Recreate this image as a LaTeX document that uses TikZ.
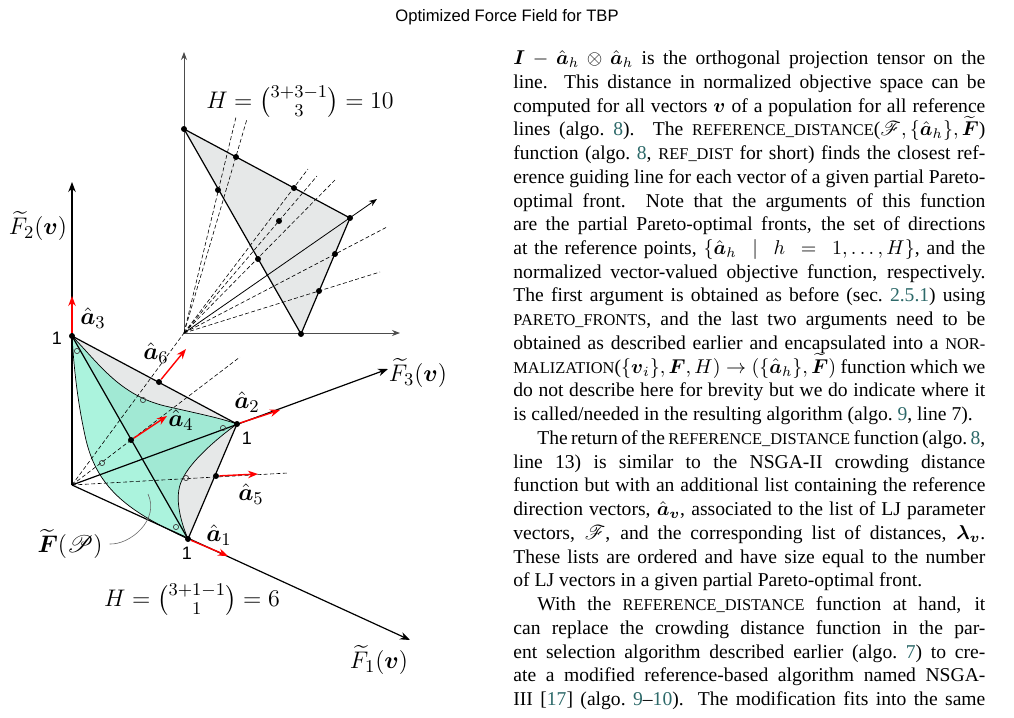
\documentclass[tikz,border=0pt]{standalone}
\usepackage{amsmath,amssymb,mathrsfs}
\usepackage{fontspec}
\setmainfont{Liberation Serif}
\newfontfamily\hdrfont{Liberation Sans}
\usetikzlibrary{arrows.meta}
\definecolor{refc}{RGB}{45,105,105}
\definecolor{tri}{RGB}{230,232,232}
\definecolor{grn}{RGB}{120,235,200}
\newcommand{\sck}[1]{{\fontsize{8.2}{11.87}\selectfont #1}}
\newcommand{\rf}[1]{\textcolor{refc}{#1}}
\newcommand{\bah}{\hat{\boldsymbol a}_h}
\begin{document}
\begin{tikzpicture}[x=0.5pt,y=-0.5pt,
  ax/.style={line width=0.6pt,-{Stealth[length=5pt]}},
  iax/.style={line width=0.4pt,draw=black!70,-{Stealth[length=4pt]}},
  edge/.style={line width=0.6pt},
  dsh/.style={dashed,line width=0.3pt,dash pattern=on 2pt off 1.2pt},
  red arrow/.style={red,line width=0.7pt,-{Stealth[length=5pt]}},
  dot/.style={circle,fill=black,inner sep=0pt,minimum size=3pt},
  odot/.style={circle,draw=black!75,line width=0.35pt,inner sep=0pt,minimum size=2.6pt},
  lab/.style={font=\fontsize{12.5}{14}\selectfont},
  one/.style={font=\hdrfont\fontsize{9}{10}\selectfont},
]
\useasboundingbox (0,0) rectangle (1014,718);
\node[font=\hdrfont\fontsize{8.3}{10}\selectfont] (hdr) at (507,17) {Optimized Force Field for TBP};

% ---------- inset ----------
\coordinate (Q) at (184,333);
\coordinate (Qy) at (184,52);
\coordinate (Qx) at (400,333);
\coordinate (A) at (184,129);
\coordinate (B) at (350,218);
\coordinate (C) at (301,334);
\fill[tri] (A)--(B)--(C)--cycle;
\draw[iax] (Q)--(Qy);
\draw[iax] (Q)--(Qx);
\coordinate (d1) at (236,117); \coordinate (d2) at (247,119);
\coordinate (d3) at (308,169); \coordinate (d4) at (317,176);
\coordinate (d5) at (335,180); \coordinate (d6) at (387,227);
\coordinate (d7) at (380,272); \coordinate (dB) at (377,199);
\foreach \d in {d1,d2,d3,d4,d5,d6,d7} \draw[dsh] (Q)--(\d);
\draw[line width=0.4pt,-{Stealth[length=4pt]}] (Q)--(dB);
\draw[edge] (A)--(B)--(C)--cycle;
\foreach \p/\n in {{(184,129)}/i1,{(350,218)}/i2,{(301,334)}/i3,{(236,157)}/i4,{(294,188)}/i5,{(218,190)}/i6,{(258,259)}/i7,{(335,254)}/i8,{(319,291)}/i9,{(279,221)}/i10}
  \node[dot] (\n) at \p {};
\node[lab] (Hi) at (300,102) {$H=\binom{3+3-1}{3}=10$};

% ---------- main ----------
\coordinate (O) at (72,485);
\coordinate (P3) at (72,336);
\coordinate (P2) at (237,424);
\coordinate (P1) at (188,539);
\coordinate (E2) at (72,182);
\coordinate (E3) at (388,369);
\coordinate (E1) at (410,640);
\fill[tri] (P3)--(P2)--(P1)--cycle;
\fill[grn,opacity=0.62] (P3) .. controls (100,365) and (120,395) .. (165,406)
   .. controls (200,414) and (220,418) .. (P2)
   .. controls (215,440) and (190,462) .. (182,480)
   .. controls (174,496) and (180,520) .. (P1)
   .. controls (130,512) and (98,490) .. (86,440)
   .. controls (78,405) and (74,370) .. (P3) -- cycle;
\draw[line width=0.35pt] (P3) .. controls (100,365) and (120,395) .. (165,406)
   .. controls (200,414) and (220,418) .. (P2)
   .. controls (215,440) and (190,462) .. (182,480)
   .. controls (174,496) and (180,520) .. (P1);
\draw[line width=0.35pt] (P1) .. controls (130,512) and (98,490) .. (86,440)
   .. controls (78,405) and (74,370) .. (P3);
% axes
\draw[ax] (O)--(E2);
\draw[ax] (O)--(E3);
\draw[ax] (O)--(E1);
% dashed reference lines
\coordinate (r1) at (240,357);
\coordinate (r2) at (288,473);
\draw[dsh] (O)--(r1);
\draw[dsh] (O)--(Q);
\draw[dsh] (O)--(r2);
% triangle edges
\draw[edge] (P3)--(P2)--(P1)--cycle;
% circles
\foreach \p/\n in {{(77,351)}/c1,{(143,400)}/c2,{(102,463)}/c3,{(223,428)}/c4,{(186,478)}/c5,{(176,527)}/c6}
  \node[odot] (\n) at \p {};
% ref points and arrows
\node[dot] (p3) at (P3) {};
\node[dot] (p2) at (P2) {};
\node[dot] (p1) at (P1) {};
\node[dot] (m6) at (159,382) {};
\node[dot] (m4) at (131,440) {};
\node[dot] (m5) at (216,476) {};
\coordinate (t3) at (72,296);
\coordinate (t2) at (280,410);
\coordinate (t1) at (228,556);
\coordinate (t6) at (186,349);
\coordinate (t4) at (167,416);
\coordinate (t5) at (258,474);
\draw[red arrow] (p3)--(t3);
\draw[red arrow] (p2)--(t2);
\draw[red arrow] (p1)--(t1);
\draw[red arrow] (m6)--(t6);
\draw[red arrow] (m4)--(t4);
\draw[red arrow] (m5)--(t5);
% labels
\node[lab] (la3) at (93,318) {$\hat{\boldsymbol a}_3$};
\node[lab] (la6) at (156,353) {$\hat{\boldsymbol a}_6$};
\node[lab] (la4) at (181,420) {$\hat{\boldsymbol a}_4$};
\node[lab] (la2) at (247,402) {$\hat{\boldsymbol a}_2$};
\node[lab] (la5) at (251,494) {$\hat{\boldsymbol a}_5$};
\node[lab] (la1) at (219,535) {$\hat{\boldsymbol a}_1$};
\node[one] (o3) at (57,338) {1};
\node[one] (o2) at (247,438) {1};
\node[one] (o1) at (187,553) {1};
\node[lab] (lf2) at (38,226) {$\widetilde F_2(\boldsymbol v)$};
\node[lab] (lf3) at (418,373) {$\widetilde F_3(\boldsymbol v)$};
\node[lab] (lf1) at (379,660) {$\widetilde F_1(\boldsymbol v)$};
\node[lab] (lfp) at (70,544) {$\widetilde{\boldsymbol F}(\mathscr P)$};
\coordinate (fpt) at (148,494);
\draw[black!60,line width=0.3pt] (lfp.east) .. controls (130,545) and (160,520) .. (fpt);
\node[lab] (Hm) at (192,600) {$H=\binom{3+1-1}{1}=6$};

% ---------- text ----------
\node[anchor=north west,inner sep=0pt,text width=236pt,align=justify,
      font=\fontsize{9.8}{11.87}\selectfont] (txt) at (513,50) {%
\hfuzz=20pt\parindent=0pt
$\boldsymbol I-\bah\otimes\bah$ is the orthogonal projection tensor on the\linebreak
line. This distance in normalized objective space can be\linebreak
computed for all vectors $\boldsymbol v$ of a population for all reference\linebreak
lines (algo.~\rf{8}). The \sck{REFERENCE\_DISTANCE}($\mathscr F,\{\bah\},\widetilde{\boldsymbol F}$)\linebreak
function (algo.~\rf{8}, \sck{REF\_DIST} for short) finds the closest ref-\linebreak
erence guiding line for each vector of a given partial Pareto-\linebreak
optimal front. Note that the arguments of this function\linebreak
are the partial Pareto-optimal fronts, the set of directions\linebreak
at the reference points, $\{\bah\ \mid\ h\ =\ 1,\ldots,H\}$, and the\linebreak
normalized vector-valued objective function, respectively.\linebreak
The first argument is obtained as before (sec.~\rf{2.5.1}) using\linebreak
\sck{PARETO\_FRONTS}, and the last two arguments need to be\linebreak
obtained as described earlier and encapsulated into a \sck{NOR-}\linebreak
\sck{MALIZATION}($\{\boldsymbol v_i\},\boldsymbol F,H)\to(\{\bah\},\widetilde{\boldsymbol F})$ function which we\linebreak
do not describe here for brevity but we do indicate where it\linebreak
is called/needed in the resulting algorithm (algo.~\rf{9}, line 7).\par
\parindent=12pt
The return of the \sck{REFERENCE\_DISTANCE} function (algo.~\rf{8},\linebreak
line 13) is similar to the NSGA-II crowding distance\linebreak
function but with an additional list containing the reference\linebreak
direction vectors, $\hat{\boldsymbol a}_{\boldsymbol v}$, associated to the list of LJ parameter\linebreak
vectors, $\mathscr F$, and the corresponding list of distances, $\boldsymbol\lambda_{\boldsymbol v}$.\linebreak
These lists are ordered and have size equal to the number\linebreak
of LJ vectors in a given partial Pareto-optimal front.\par
{\parfillskip=0pt
With the \sck{REFERENCE\_DISTANCE} function at hand, it\linebreak
can replace the crowding distance function in the par-\linebreak
ent selection algorithm described earlier (algo.~\rf{7}) to cre-\linebreak
ate a modified reference-based algorithm named NSGA-\linebreak
III [\rf{17}] (algo.~\rf{9}--\rf{10}). The modification fits into the same\par}
};
\end{tikzpicture}
\end{document}
